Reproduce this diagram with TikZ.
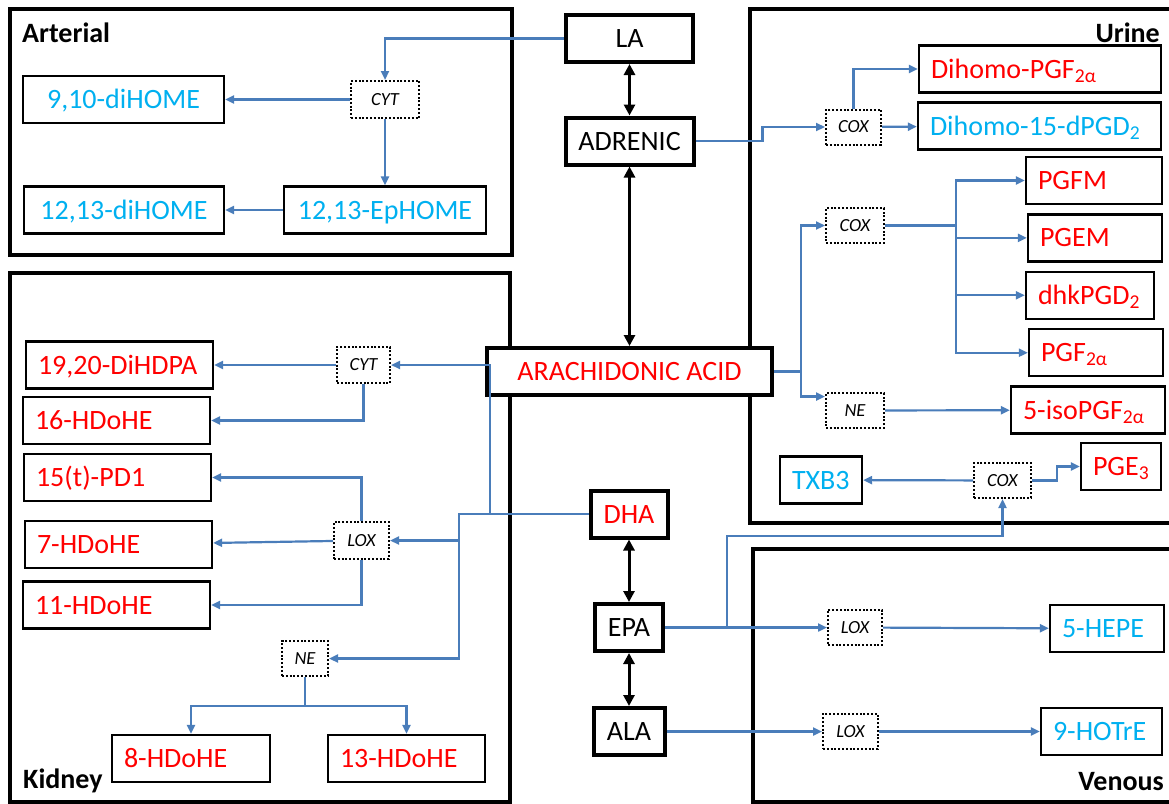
\documentclass[tikz,border=0pt]{standalone}
\usepackage{fontspec}
\setmainfont{Carlito}
\usepackage{xcolor}
\usepackage{tikz}
\usetikzlibrary{arrows.meta,positioning}
\newcommand{\labfont}{\fontsize{28}{32}\selectfont}
\newcommand{\enzfont}{\fontsize{18.5}{21}\selectfont\itshape}
\definecolor{c_red}{rgb}{1.0, 0.0, 0.0}
\definecolor{c_blue}{rgb}{0.0, 0.69, 0.94}
\definecolor{c_link}{rgb}{0.29, 0.49, 0.73}
\tikzset{c-panel/.style={draw=black, line width=3.3pt},
c-title/.style={font=\labfont\bfseries, inner sep=0pt},
c-main/.style={rectangle, draw=black, fill=white, line width=4pt, minimum height=47pt, inner sep=0pt, text height=18pt, text depth=0pt, font=\labfont},
c-prod/.style={rectangle, draw=black, fill=white, line width=2.3pt, minimum height=47pt, inner xsep=12pt, inner ysep=0pt, text width=#1, align=left, text height=18pt, text depth=0pt, font=\labfont, execute at begin node={\hyphenpenalty=10000\exhyphenpenalty=10000}},
c-enz/.style={rectangle, draw=black, fill=white, line width=2pt, dash pattern=on 2pt off 1.8pt, minimum width=55pt, minimum height=35pt, inner sep=0pt, font=\enzfont},
link/.style={draw=c_link, line width=2.2pt},
arrow/.style={link, -{Triangle[length=9pt,width=8pt]}},
barrow/.style={line width=3pt, {Triangle[length=11pt,width=11pt]}-{Triangle[length=11pt,width=11pt]}}}

\begin{document}
\begin{tikzpicture}[x=1pt, y=-1pt, node distance=57.4pt]
\useasboundingbox (0,0) rectangle (1169,803);
% panels
\draw [c-panel] (10,9) rectangle (512,255);
\draw [c-panel] (10,273) rectangle (510,802);
\draw [c-panel] (750,9) rectangle (1180,523);
\draw [c-panel] (753,549) rectangle (1180,802);
\node (t-art) [c-title, anchor=base west] at (22,42) {Arterial};
\node (t-kid) [c-title, anchor=base west] at (23,788) {Kidney};
\node (t-uri) [c-title, anchor=base east] at (1160,42) {Urine};
\node (t-ven) [c-title, anchor=base east] at (1164,790) {Venous};

% fatty acids
\node (la) [c-main, minimum width=127pt] at (629.5,38.5) {LA};
\node (adr) [c-main, minimum width=128pt] at (629.5,141) {ADRENIC};
\node (ara) [c-main, minimum width=285pt, text=c_red] at (629.5,371.5) {ARACHIDONIC ACID};
\node (dha) [c-main, minimum width=77pt, text=c_red] at (629,514) {DHA};
\node (epa) [c-main, minimum width=68pt] at (629,627.5) {EPA};
\node (ala) [c-main, minimum width=71pt] at (629,731.5) {ALA};

% arterial
\node (a-cyt) [c-enz, minimum width=68pt, minimum height=37pt] at (385,99.5) {CYT};
\node (dihome910) [c-prod=177pt, align=center, text=c_blue] at (123.5,99.5) {9,10-diHOME};
\node (ephome) [c-prod=178pt, align=center, text=c_blue] at (385,210) {12,13-EpHOME};
\node (dihome1213) [c-prod=176pt, align=center, text=c_blue] at (124,210) {12,13-diHOME};

% urine
\node (u-cox1) [c-enz] at (853.5,127) {COX};
\node (dhpgf) [c-prod=218pt, text=c_red] at (1040,69) {Dihomo-PGF\textsubscript{2α}};
\node (dhpgd) [c-prod=219pt, text=c_blue] at (1039.5,126) {Dihomo-15-dPGD\textsubscript{2}};
\node (u-cox2) [c-enz, minimum width=58pt] at (855,225.5) {COX};
\node (pgfm) [c-prod=112pt, text=c_red] at (1094,180.5) {PGFM};
\node (pgem) [c-prod=110pt, text=c_red, below of=pgfm, xshift=1pt] {PGEM};
\node (dhk) [c-prod=104pt, text=c_red, below of=pgem, xshift=-5pt] {dhkPGD\textsubscript{2}};
\node (pgf2a) [c-prod=110pt, text=c_red, below of=dhk, xshift=6pt] {PGF\textsubscript{2α}};
\node (isopgf) [c-prod=130pt, text=c_red, below of=pgf2a, xshift=-8pt] {5-isoPGF\textsubscript{2α}};
\node (u-ne) [c-enz, minimum width=58pt] at (855,410.5) {NE};
\node (u-cox3) [c-enz, minimum width=57pt] at (1002.5,480.5) {COX};
\node (txb3) [c-prod=58pt, text=c_blue] at (821,480) {TXB3};
\node (pge3) [c-prod=56pt, text=c_red] at (1121,466.5) {PGE\textsubscript{3}};

% venous
\node (v-lox1) [c-enz, minimum width=54pt] at (855,627.5) {LOX};
\node (hepe) [c-prod=90pt, text=c_blue] at (1107,628.5) {5-HEPE};
\node (v-lox2) [c-enz] at (850.5,731.5) {LOX};
\node (hotre) [c-prod=97pt, text=c_blue] at (1101.5,731.5) {9-HOTrE};

% kidney
\node (k-cyt) [c-enz, minimum width=53pt, minimum height=36pt] at (363.5,365) {CYT};
\node (k-lox) [c-enz, minimum height=37pt] at (361.5,540.5) {LOX};
\node (k-ne) [c-enz, minimum width=46pt] at (305,658.5) {NE};
\node (dihdpa) [c-prod=163pt, text=c_red] at (119.5,365) {19,20-DiHDPA};
\node (hdohe16) [c-prod=163pt, text=c_red] at (116.5,420.5) {16-HDoHE};
\node (pd1) [c-prod=163pt, text=c_red] at (117.5,477.5) {15(t)-PD1};
\node (hdohe7) [c-prod=163pt, text=c_red] at (118.5,544.5) {7-HDoHE};
\node (hdohe11) [c-prod=163pt, text=c_red] at (116.5,605) {11-HDoHE};
\node (hdohe8) [c-prod=134pt, text=c_red] at (191,758.5) {8-HDoHE};
\node (hdohe13) [c-prod=133pt, text=c_red] at (406.5,758.5) {13-HDoHE};

\coordinate (k-j1) at (490,514);
\coordinate (k-j2) at (459,514);
\coordinate (j-epa) at (727,536);

% main chain
\draw [barrow] (la) -- (adr);
\draw [barrow] (adr) -- (ara);
\draw [barrow] (dha) -- (epa);
\draw [barrow] (epa) -- (ala);

% arterial links
\draw [arrow] (la.west) -| (a-cyt.north);
\draw [arrow] (a-cyt) -- (dihome910);
\draw [arrow] (a-cyt) -- (ephome);
\draw [arrow] (ephome) -- (dihome1213);

% urine links
\draw [arrow] (adr.east) -- ++(67,0) |- (u-cox1.west);
\draw [arrow] (u-cox1.north) |- (dhpgf.west);
\draw [arrow] (u-cox1) -- (dhpgd);
\draw [arrow] (ara.east) -- ++(27,0) |- (u-cox2.west);
\draw [arrow] (ara.east) -- ++(27,0) |- (u-ne.155);
\draw [link] (u-cox2.east) -- ++(71,0) coordinate (u-br);
\draw [arrow] (u-br) |- (pgfm.west);
\draw [arrow] (u-br) |- (pgem.west);
\draw [arrow] (u-br) |- (dhk.west);
\draw [arrow] (u-br) |- (pgf2a.west);
\draw [arrow] (u-ne) -- (isopgf);
\draw [arrow] (u-cox3) -- (txb3);
\draw [arrow] (u-cox3.east) -- ++(25,0) |- (pge3.west);
\draw [arrow] (epa.east) -| (j-epa) -| (u-cox3.south);

% venous links
\draw [arrow] (epa) -- (v-lox1);
\draw [arrow] (v-lox1) -- (hepe);
\draw [arrow] (ala) -- (v-lox2);
\draw [arrow] (v-lox2) -- (hotre);

% kidney links
\draw [arrow] (dha.west) -- (k-j2) |- (k-lox.east);
\draw [arrow] (k-j1) |- (k-cyt.east);
\draw [arrow] (k-j2) |- (k-ne.east);
\draw [arrow] (k-cyt) -- (dihdpa);
\draw [arrow] (k-cyt.south) |- (hdohe16.east);
\draw [arrow] (k-lox.north) |- (pd1.east);
\draw [arrow] (k-lox) -- (hdohe7);
\draw [arrow] (k-lox.south) |- (hdohe11.east);
\draw [link] (k-ne.south) -- ++(0,29) coordinate (k-j3);
\draw [arrow] (k-j3) -| (hdohe8.north);
\draw [arrow] (k-j3) -| (hdohe13.north);
\end{tikzpicture}
\end{document}
